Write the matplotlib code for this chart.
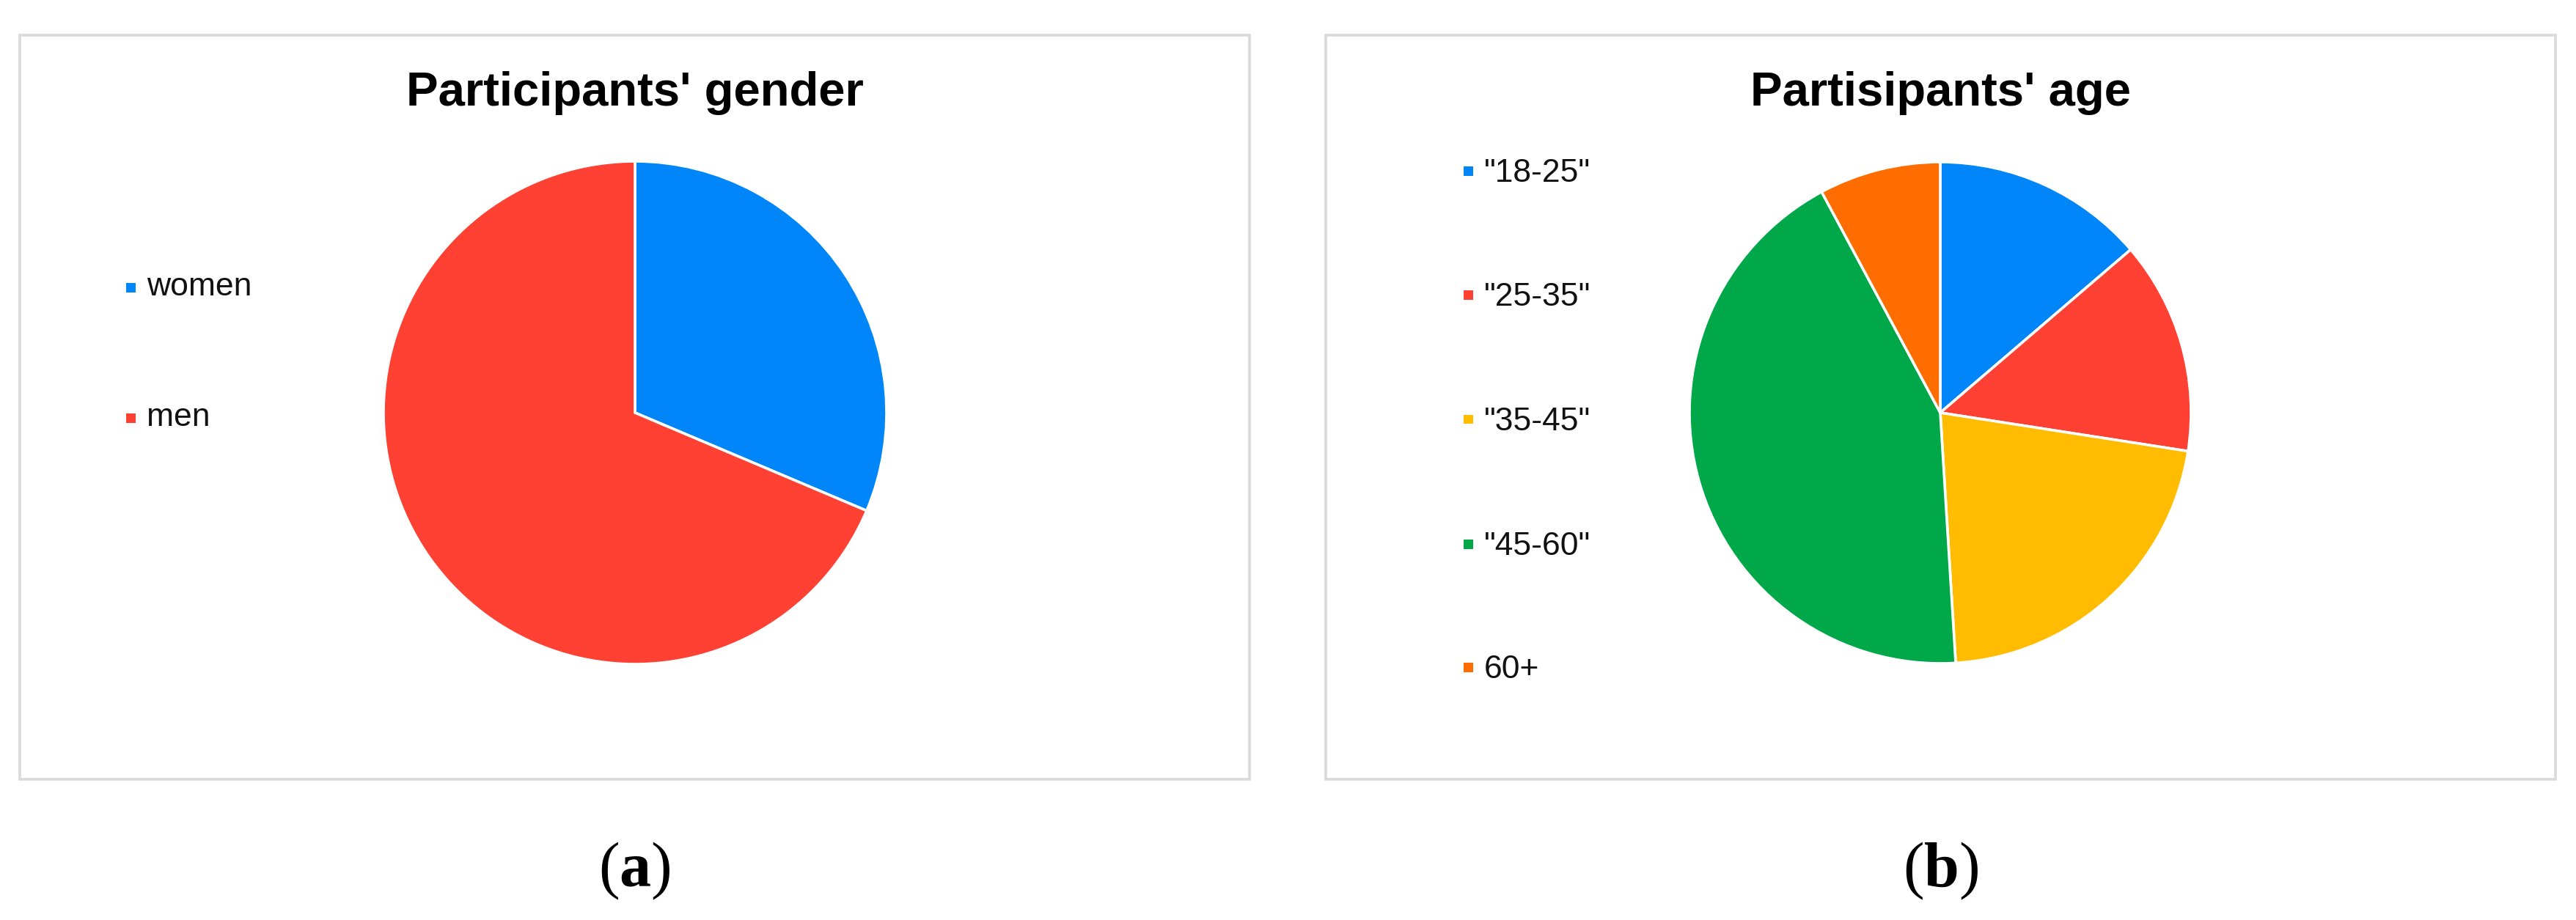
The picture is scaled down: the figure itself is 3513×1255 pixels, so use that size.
import matplotlib
matplotlib.use("Agg")
import matplotlib.pyplot as plt
from matplotlib.patches import Rectangle

# ---- data ----
gender_labels = ["women", "men"]
gender_values = [16, 35]
gender_colors = ["#0086F9", "#FF4133"]

age_labels = ['"18-25"', '"25-35"', '"35-45"', '"45-60"', "60+"]
age_values = [7, 7, 11, 22, 4]
age_colors = ["#0086F9", "#FF4133", "#FFBC00", "#00A849", "#FF6D00"]

titles = ["Participants' gender", "Partisipants' age"]
captions = [r"$(\mathbf{a})$", r"$(\mathbf{b})$"]

# ---- figure ----
W, H, DPI = 3513, 1255, 100
plt.rcParams["font.family"] = ["Liberation Sans", "DejaVu Sans"]
plt.rcParams["mathtext.fontset"] = "custom"
plt.rcParams["mathtext.rm"] = "Liberation Serif"
plt.rcParams["mathtext.bf"] = "Liberation Serif:bold"
plt.rcParams["mathtext.it"] = "Liberation Serif:italic"

fig = plt.figure(figsize=(W / DPI, H / DPI), dpi=DPI)
fig.patch.set_facecolor("white")


def fx(px):
    return px / W


def fy(py):
    return 1 - py / H


panels = [
    dict(box=(27, 48, 1704, 1063), center=(866, 563), r=343,
         labels=gender_labels, values=gender_values, colors=gender_colors,
         leg_x=172, leg_y=[392, 570], leg_dy=11),
    dict(box=(1808, 48, 3485, 1063), center=(2646, 563), r=342,
         labels=age_labels, values=age_values, colors=age_colors,
         leg_x=1996, leg_y=[233, 402, 572, 742, 910], leg_dy=15),
]

for i, p in enumerate(panels):
    x0, y0, x1, y1 = p["box"]
    fig.add_artist(Rectangle((fx(x0), fy(y1)), fx(x1 - x0), (y1 - y0) / H,
                             transform=fig.transFigure, fill=False,
                             edgecolor="#d9d9d9", linewidth=2.6))
    cx, cy = p["center"]
    r = p["r"]
    ax = fig.add_axes([fx(cx - r), fy(cy + r), fx(2 * r), 2 * r / H])
    ax.pie(p["values"], colors=p["colors"], startangle=90, counterclock=False,
           radius=1.0, wedgeprops=dict(edgecolor="white", linewidth=2.6))
    ax.set_xlim(-1.0, 1.0)
    ax.set_ylim(-1.0, 1.0)
    ax.set_aspect("auto")
    ax.axis("off")

    # title
    tcx = (x0 + x1) / 2
    fig.text(fx(tcx), fy(144), titles[i], ha="center", va="baseline",
             fontsize=47, fontweight="bold", color="#000000")

    # legend
    s = 13
    for lab, col, ly in zip(p["labels"], p["colors"], p["leg_y"]):
        fig.add_artist(Rectangle((fx(p["leg_x"]), fy(ly + s / 2)), fx(s), s / H,
                                 transform=fig.transFigure, facecolor=col,
                                 edgecolor="none"))
        fig.text(fx(p["leg_x"] + 28), fy(ly + p["leg_dy"]), lab, ha="left",
                 va="baseline", fontsize=32, color="#111111")

    # caption
    fig.text(fx(tcx), fy(1188), captions[i], ha="center", va="center",
             fontsize=62, color="black")

fig.savefig("out.png", dpi=DPI, facecolor="white")
